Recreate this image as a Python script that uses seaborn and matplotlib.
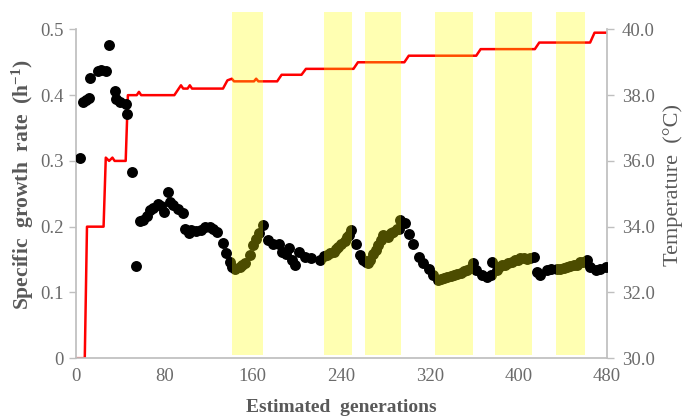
import numpy as np
import pandas as pd
import seaborn as sns
import matplotlib
matplotlib.use("Agg")
import matplotlib.pyplot as plt

# temperature profile (step changes), generations vs degC
temp_gen = [0, 8, 10, 25, 27, 30, 33, 35, 45, 47,
            55, 57, 59, 89, 93, 95, 97, 101, 103, 105,
            133, 137, 141, 143, 161, 163, 165, 182, 186, 204,
            208, 251, 255, 297, 301, 362, 366, 415, 419, 465,
            469, 481]
temp_val = [30.0, 30.0, 34.0, 34.0, 36.1, 36.0, 36.1, 36.0, 36.0, 38.0,
            38.0, 38.1, 38.0, 38.0, 38.2, 38.3, 38.2, 38.2, 38.3, 38.2,
            38.2, 38.45, 38.5, 38.42, 38.42, 38.5, 38.42, 38.42, 38.62, 38.62,
            38.8, 38.8, 39.0, 39.0, 39.2, 39.2, 39.4, 39.4, 39.6, 39.6,
            39.9, 39.9]

# specific growth rate measurements (10 per row)
mu_gen = [4, 6, 9, 12, 13, 20, 23, 27, 30, 35,
          36, 40, 45, 46, 51, 54, 58, 61, 64, 67,
          70, 74, 77, 80, 83, 85, 88, 92, 97, 99,
          102, 104, 109, 113, 117, 121, 124, 128, 133, 136,
          139, 141, 144, 148, 150, 153, 157, 160, 163, 166,
          169, 174, 178, 184, 186, 190, 193, 195, 198, 202,
          207, 213, 221, 224, 227, 230, 233, 235, 237, 240,
          243, 245, 247, 249, 253, 257, 260, 262, 264, 266,
          269, 271, 273, 276, 278, 280, 282, 285, 287, 290,
          292, 293, 298, 301, 305, 310, 314, 319, 323, 327,
          330, 333, 336, 339, 342, 345, 348, 351, 354, 357,
          359, 362, 367, 372, 375, 376, 381, 383, 385, 388,
          391, 394, 397, 400, 402, 405, 408, 411, 414, 417,
          420, 426, 430, 435, 438, 441, 444, 447, 450, 453,
          456, 459, 462, 465, 470, 474, 479]
mu_val = [0.304, 0.390, 0.392, 0.396, 0.426, 0.436, 0.439, 0.436, 0.476, 0.406,
          0.394, 0.390, 0.386, 0.371, 0.283, 0.140, 0.208, 0.210, 0.216, 0.225,
          0.229, 0.234, 0.231, 0.222, 0.253, 0.238, 0.233, 0.227, 0.221, 0.197,
          0.190, 0.195, 0.193, 0.195, 0.199, 0.200, 0.196, 0.192, 0.175, 0.160,
          0.147, 0.138, 0.136, 0.139, 0.141, 0.144, 0.157, 0.172, 0.182, 0.190,
          0.202, 0.179, 0.174, 0.174, 0.161, 0.159, 0.167, 0.149, 0.141, 0.161,
          0.154, 0.152, 0.149, 0.155, 0.157, 0.160, 0.162, 0.166, 0.169, 0.174,
          0.178, 0.184, 0.188, 0.195, 0.174, 0.157, 0.149, 0.146, 0.144, 0.150,
          0.159, 0.165, 0.172, 0.180, 0.187, 0.186, 0.184, 0.190, 0.192, 0.196,
          0.197, 0.210, 0.205, 0.189, 0.174, 0.154, 0.144, 0.136, 0.126, 0.119,
          0.121, 0.122, 0.123, 0.125, 0.126, 0.128, 0.130, 0.132, 0.134, 0.137,
          0.144, 0.134, 0.126, 0.124, 0.126, 0.146, 0.134, 0.138, 0.141, 0.142,
          0.144, 0.146, 0.149, 0.150, 0.152, 0.152, 0.151, 0.152, 0.154, 0.131,
          0.126, 0.134, 0.136, 0.136, 0.136, 0.137, 0.139, 0.140, 0.141, 0.142,
          0.146, 0.147, 0.149, 0.139, 0.134, 0.136, 0.139]

# highlighted periods (generations)
band_start = [141.5, 224, 261, 325, 379, 434]
band_end = [169, 250, 294, 359, 412, 460]

xticks = [0, 80, 160, 240, 320, 400, 480]
left_ticks = [0, 0.1, 0.2, 0.3, 0.4, 0.5]
left_labels = ["0", "0.1", "0.2", "0.3", "0.4", "0.5"]
right_ticks = [30, 32, 34, 36, 38, 40]
right_labels = ["30.0", "32.0", "34.0", "36.0", "38.0", "40.0"]

df_t = pd.DataFrame({"gen": temp_gen, "temp": temp_val})
df_mu = pd.DataFrame({"gen": mu_gen, "mu": mu_val})

sns.set_theme(style="white")
plt.rcParams["font.family"] = ["Liberation Serif", "DejaVu Serif"]
plt.rcParams["mathtext.fontset"] = "custom"
plt.rcParams["mathtext.rm"] = "Liberation Serif"
plt.rcParams["mathtext.it"] = "Liberation Serif:italic"
plt.rcParams["mathtext.bf"] = "Liberation Serif:bold"

grey = "#595959"
tick_grey = "#6b6b6b"
spine_c = "#bfbfbf"

fig = plt.figure(figsize=(6.84, 4.16), dpi=100)
ax = fig.add_axes([0.111, 0.139, 0.776, 0.833])
ax2 = ax.twinx()

top = 0.527
ax.set_ylim(0, top)
ax2.set_ylim(30, 30 + 10 * top / 0.5)
ax.set_xlim(0, 480)

sns.lineplot(data=df_t, x="gen", y="temp", ax=ax2, color="#ff0000", lw=1.8,
             sort=False, estimator=None)
sns.scatterplot(data=df_mu, x="gen", y="mu", ax=ax, color="black", s=62,
                edgecolor="black", linewidth=0, zorder=3)

# dots above the temperature line, bands above both
ax.set_zorder(ax2.get_zorder() + 1)
ax.patch.set_visible(False)
for s0, s1 in zip(band_start, band_end):
    ax.axvspan(s0, s1, ymin=0.009, ymax=1.0, color="#ffff00", alpha=0.3, lw=0, zorder=5)

for a in (ax, ax2):
    a.spines["top"].set_visible(False)
    for sp in ("left", "right", "bottom"):
        a.spines[sp].set_color(spine_c)
ax.spines["left"].set_bounds(0, 0.5)
ax.spines["right"].set_visible(False)
ax2.spines["left"].set_visible(False)
ax2.spines["bottom"].set_visible(False)
ax2.spines["right"].set_bounds(30, 40)

ax.set_xticks(xticks)
ax.set_yticks(left_ticks)
ax.set_yticklabels(left_labels)
ax2.set_yticks(right_ticks)
ax2.set_yticklabels(right_labels)
ax.tick_params(axis="both", direction="out", length=5, width=1, color=spine_c,
               labelcolor=tick_grey, labelsize=13.5, pad=4)
ax.tick_params(axis="x", pad=2)
ax2.tick_params(axis="y", direction="out", length=5, width=1, color=spine_c,
                labelcolor=tick_grey, labelsize=13.5, pad=6)

ax.set_xlabel("Estimated  generations", fontsize=14, fontweight="bold", color=grey, labelpad=10)
ax.set_ylabel(r"Specific  growth  rate  (h$^{\mathbf{-1}}$)", fontsize=15.5, fontweight="bold",
              color=grey, labelpad=3)
ax2.set_ylabel("Temperature  (\u00b0C)", fontsize=16, color=grey, rotation=90, labelpad=6)

fig.savefig("out.png", dpi=100)
